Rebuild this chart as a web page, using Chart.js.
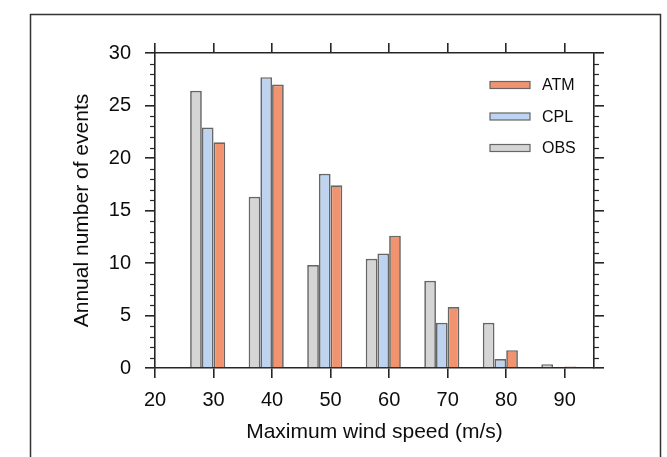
<!DOCTYPE html>
<html><head><meta charset="utf-8">
<script src="https://cdn.jsdelivr.net/npm/chart.js@4"></script>
<style>html,body{margin:0;padding:0;background:#fff;}</style>
</head><body>
<canvas id="c" width="667" height="457"></canvas>
<script>
// ---- data ----
const categories = [30, 40, 50, 60, 70, 80, 90];
const obs = [26.4, 16.3, 9.8, 10.4, 8.3, 4.3, 0.35];
const cpl = [22.9, 27.7, 18.5, 10.9, 4.3, 0.86, 0];
const atm = [21.5, 27.0, 17.4, 12.6, 5.8, 1.7, 0.15];
const xTicks = [20, 30, 40, 50, 60, 70, 80, 90];
const yTicks = [0, 5, 10, 15, 20, 25, 30];
const seriesNames = ['OBS', 'CPL', 'ATM'];

const colors = { OBS: '#d5d5d5', CPL: '#bed3ef', ATM: '#f1936f' };
const edge = '#666666';
const axisColor = '#262626';
const textColor = '#0d0d0d';
const FONT = "'Liberation Sans', Arial, Helvetica, sans-serif";
Chart.defaults.font.family = FONT;

const groupShift = -1; // bar groups sit 1 unit left of the category value
const mk = (vals) => categories.map((c, i) => ({ x: c + groupShift, y: vals[i] }));

const datasets = [obs, cpl, atm].map((vals, k) => ({
  label: seriesNames[k],
  data: mk(vals),
  backgroundColor: colors[seriesNames[k]],
  borderColor: edge,
  borderWidth: 1.7,
  categoryPercentage: 0.6,
  barPercentage: 1.0
}));

const gridCommon = { display: true, offset: false, drawOnChartArea: false, drawTicks: true, tickLength: 10, color: axisColor, lineWidth: 1.6 };
const borderCommon = { display: true, color: axisColor, width: 1.6 };

const decor = {
  id: 'decor',
  afterDraw(chart) {
    const ctx = chart.ctx;
    const y = chart.scales.y, ca = chart.chartArea;
    ctx.save();
    // minor ticks on the left and right y axes
    ctx.strokeStyle = axisColor; ctx.lineWidth = 1.2;
    for (let v = yTicks[0]; v <= yTicks[yTicks.length - 1]; v++) {
      if (yTicks.includes(v)) continue;
      const py = Math.round(y.getPixelForValue(v)) + 0.5;
      ctx.beginPath(); ctx.moveTo(ca.left, py); ctx.lineTo(ca.left - 5, py); ctx.stroke();
      ctx.beginPath(); ctx.moveTo(ca.right, py); ctx.lineTo(ca.right + 5, py); ctx.stroke();
    }
    // legend inside the plot
    const order = ['ATM', 'CPL', 'OBS'];
    ctx.font = '16px ' + FONT;
    ctx.textBaseline = 'middle'; ctx.textAlign = 'left';
    order.forEach((name, i) => {
      const cy = 85 + i * 31.5;
      ctx.fillStyle = colors[name];
      ctx.fillRect(490, cy - 3.5, 40, 7);
      ctx.strokeStyle = edge; ctx.lineWidth = 1.2;
      ctx.strokeRect(490, cy - 3.5, 40, 7);
      ctx.fillStyle = textColor;
      ctx.fillText(name, 542, cy + 1);
    });
    // outer frame
    ctx.strokeStyle = '#333'; ctx.lineWidth = 1.5;
    ctx.strokeRect(30.5, 14.5, 630, 470);
    ctx.restore();
  }
};

new Chart(document.getElementById('c'), {
  type: 'bar',
  data: { datasets },
  options: {
    responsive: false,
    animation: false,
    devicePixelRatio: 1,
    layout: { padding: 0 },
    plugins: { legend: { display: false }, tooltip: { enabled: false } },
    scales: {
      x: {
        type: 'linear', position: 'bottom', min: 20, max: 95, offset: false,
        afterBuildTicks: s => { s.ticks = xTicks.map(v => ({ value: v })); },
        afterFit: s => { s.height = 89; },
        grid: gridCommon, border: borderCommon,
        ticks: { font: { size: 20 }, color: textColor, padding: 10, maxRotation: 0, autoSkip: false },
        title: { display: true, text: 'Maximum wind speed (m/s)', font: { size: 21 }, color: textColor, padding: { top: 0, bottom: 12 } }
      },
      x2: {
        type: 'linear', position: 'top', min: 20, max: 95, offset: false,
        afterBuildTicks: s => { s.ticks = xTicks.map(v => ({ value: v })); },
        afterFit: s => { s.height = 53; },
        grid: gridCommon, border: borderCommon,
        ticks: { display: false }
      },
      y: {
        type: 'linear', position: 'left', min: 0, max: 30,
        afterBuildTicks: s => { s.ticks = yTicks.map(v => ({ value: v })); },
        afterFit: s => { s.width = 155; },
        grid: gridCommon, border: borderCommon,
        ticks: { font: { size: 20 }, color: textColor, padding: 14 },
        title: { display: true, text: 'Annual number of events', font: { size: 21 }, color: textColor, padding: { top: 70, bottom: 0 } }
      },
      y2: {
        type: 'linear', position: 'right', min: 0, max: 30,
        afterBuildTicks: s => { s.ticks = yTicks.map(v => ({ value: v })); },
        afterFit: s => { s.width = 73; },
        grid: gridCommon, border: borderCommon,
        ticks: { display: false }
      }
    }
  },
  plugins: [decor]
});
</script>
</body></html>
